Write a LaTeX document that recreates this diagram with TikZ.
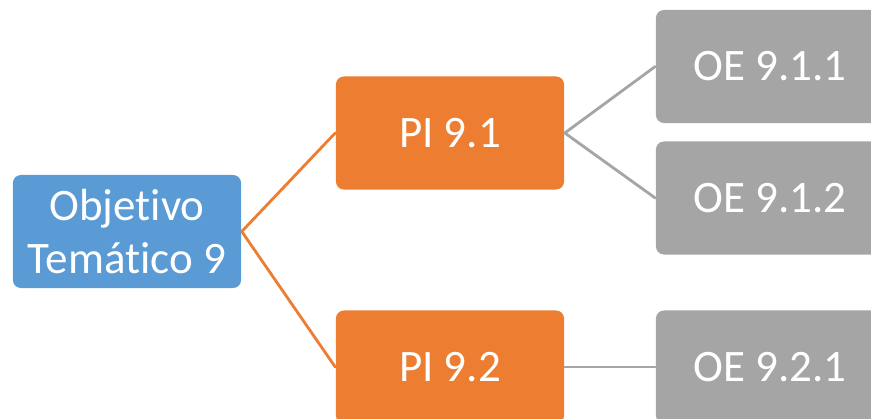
\documentclass[tikz,border=0pt]{standalone}
\usepackage{fontspec}
\setmainfont[Ligatures=NoCommon]{Carlito}
\usepackage{tikz}

\definecolor{objblue}{HTML}{5B9BD5}
\definecolor{piorange}{HTML}{ED7D31}
\definecolor{oegray}{HTML}{A5A5A5}

\begin{document}
\begin{tikzpicture}[line cap=round,line join=round,x=0.01cm,y=-0.01cm,
  box/.style={rounded corners=0.08cm,minimum width=2.28cm,minimum height=1.13cm,
    inner sep=0pt,text=white,align=center,font=\fontsize{12.8}{15.2}\selectfont},
  objbox/.style={box,fill=objblue},
  pibox/.style={box,fill=piorange},
  oebox/.style={box,fill=oegray},
  orlink/.style={draw=piorange,line width=0.8pt},
  grlink/.style={draw=oegray,line width=0.8pt}]
\useasboundingbox (0,0) rectangle (871,419);
\clip (0,0) rectangle (871,419);
\node[objbox] (obj) at (127,231.5) {Objetivo\\Temático 9};
\node[pibox] (pi1) at (450,133) {PI 9.1};
\node[pibox] (pi2) at (450,367) {PI 9.2};
\node[oebox] (oe11) at (770,66.5) {OE 9.1.1};
\node[oebox] (oe12) at (770,198) {OE 9.1.2};
\node[oebox] (oe21) at (770,367) {OE 9.2.1};
\draw[orlink] (obj.east) -- (pi1.west);
\draw[orlink] (obj.east) -- (pi2.west);
\draw[grlink] (pi1.east) -- (oe11.west);
\draw[grlink] (pi1.east) -- (oe12.west);
\draw[grlink] (pi2.east) -- (oe21.west);
\end{tikzpicture}
\end{document}
